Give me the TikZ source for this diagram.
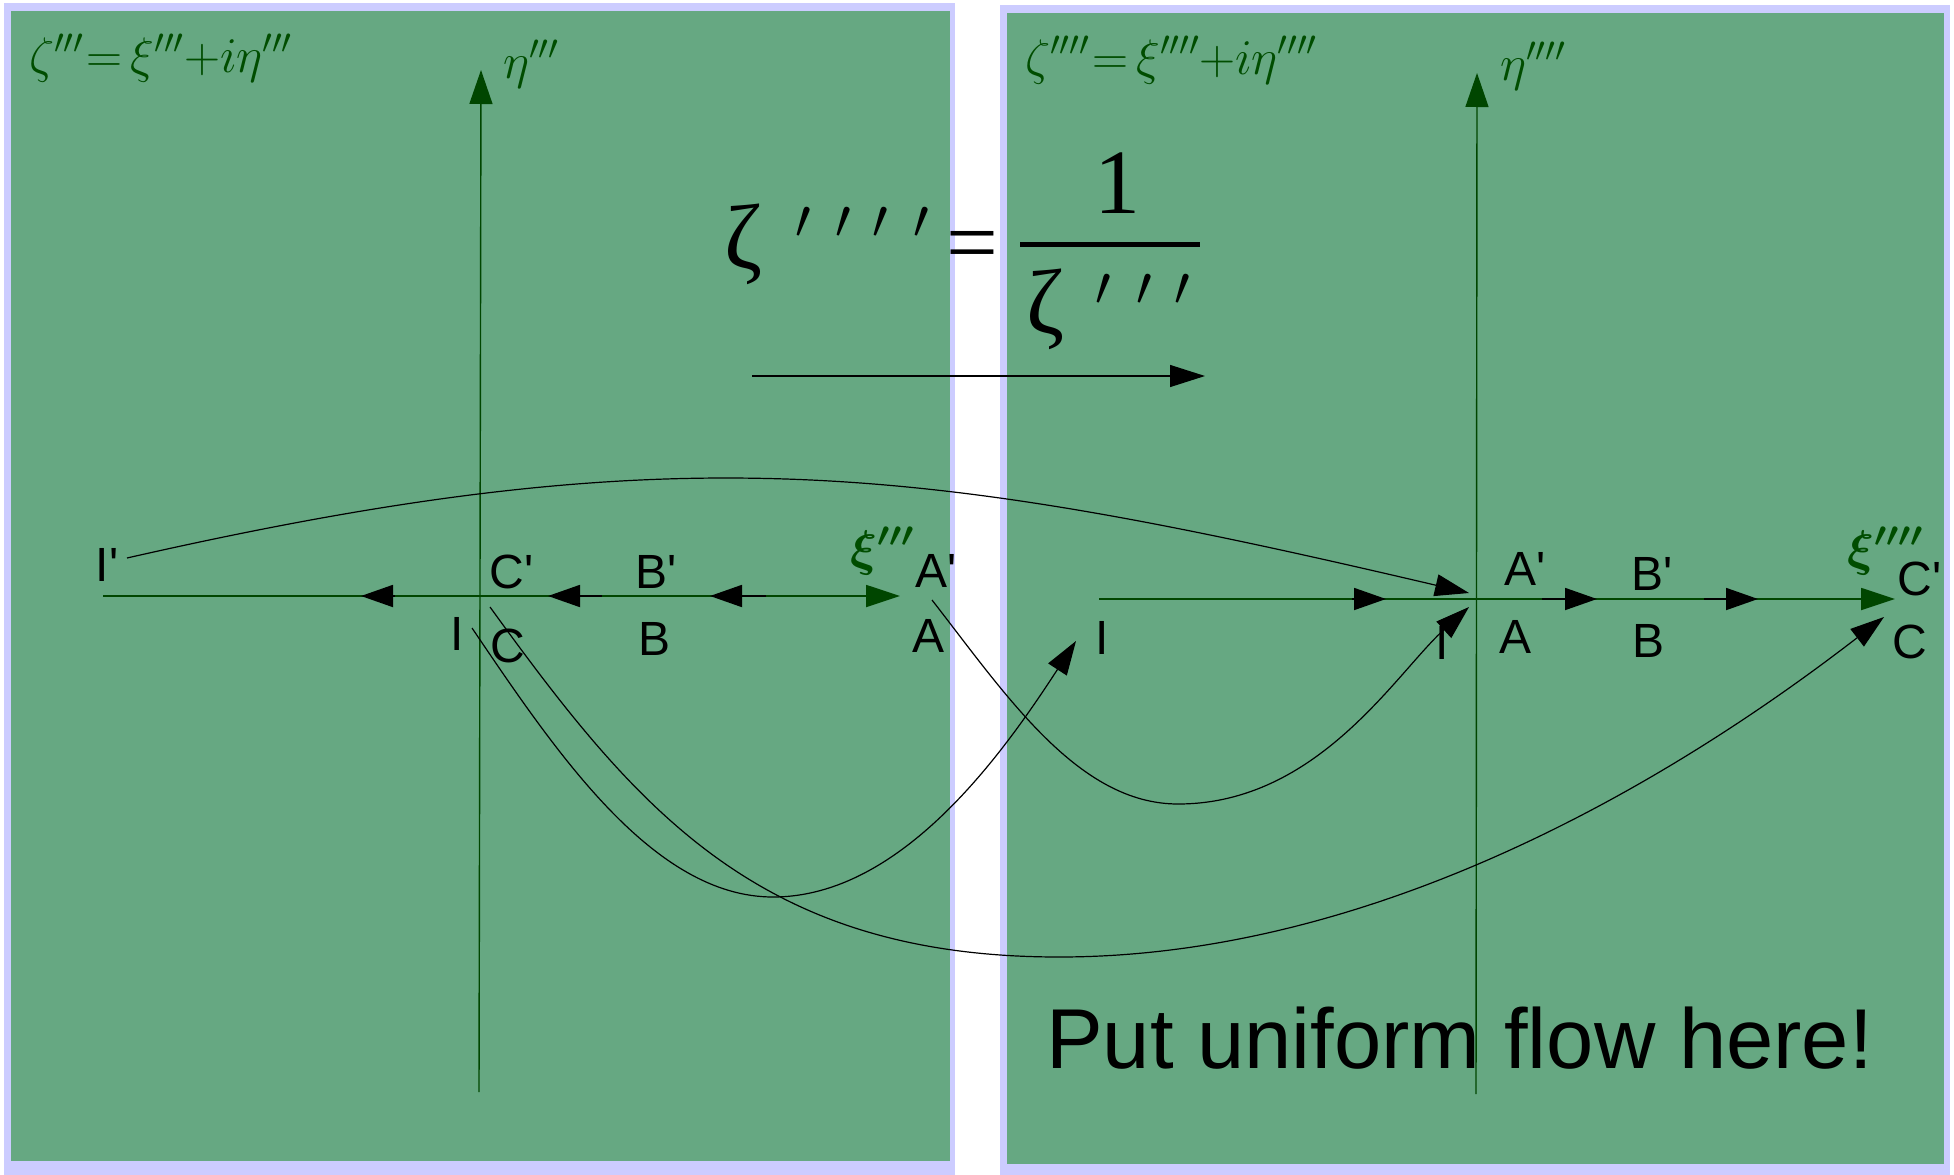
\documentclass[tikz,border=0pt]{standalone}
\usepackage{fix-cm}
\usepackage{amsmath}
\usepackage{fontspec}
\newfontfamily\labfont{Liberation Sans}
\newfontfamily\serfont{Liberation Serif}
\usetikzlibrary{arrows.meta}
\definecolor{lav}{RGB}{204,204,255}
\definecolor{panelgreen}{RGB}{102,168,130}
\definecolor{axisgreen}{RGB}{0,70,0}
\definecolor{textgreen}{RGB}{0,77,0}
\begin{document}
\begin{tikzpicture}[x=1pt,y=-1pt,
  lbl/.style={font=\labfont\fontsize{48}{56}\selectfont, inner sep=0pt, anchor=base west, text=black},
  gmath/.style={font=\fontsize{50}{60}\selectfont, inner sep=0pt, anchor=base west, text=textgreen},
  bigser/.style={font=\serfont\fontsize{92}{100}\selectfont, inner sep=0pt, anchor=base west, text=black},
  primes/.style={font=\fontsize{56}{60}\selectfont, inner sep=0pt, anchor=base west, text=black},
  axisline/.style={draw=axisgreen, line width=1.8pt, -{Triangle[length=34pt,width=22pt]}},
  vaxis/.style={draw=axisgreen, line width=1.4pt, -{Triangle[length=34pt,width=23pt]}},
  btip/.style={draw=black, line width=1.8pt, -{Triangle[length=32pt,width=22pt]}},
  curve/.style={draw=black, line width=1.2pt, -{Triangle[length=34pt,width=22pt]}}]
\useasboundingbox (0,0) rectangle (1954,1175);
% panels
\fill[lav] (4,3) rectangle (955,1175);
\fill[panelgreen] (11,11) rectangle (950,1161);
\fill[lav] (1000,5) rectangle (1950,1175);
\fill[panelgreen] (1007,13) rectangle (1944,1164);
% axes coordinates
\coordinate (LxS) at (103,596);
\coordinate (LxE) at (900,596);
\coordinate (LyS) at (479,1092);
\coordinate (LyE) at (481,70);
\coordinate (RxS) at (1099,599);
\coordinate (RxE) at (1895,599);
\coordinate (RyS) at (1476,1094);
\coordinate (RyE) at (1477,73);
\draw[axisline] (LxS) -- (LxE);
\draw[vaxis] (LyS) -- (LyE);
\draw[axisline] (RxS) -- (RxE);
\draw[vaxis] (RyS) -- (RyE);
% flow arrowheads on the axes
\draw[btip] (395,596) -- (361,596);
\draw[btip] (602,596) -- (548,596);
\draw[btip] (766,596) -- (710,596);
\draw[btip] (1352,599) -- (1386,599);
\draw[btip] (1542,599) -- (1597,599);
\draw[btip] (1704,599) -- (1758,599);
% formulas
\node[gmath] (fl) at (29,72) {$\zeta'''\mkern1mu{=}\mkern3mu\xi'''{+}i\eta'''$};
\node[gmath] (fr) at (1025,74) {$\zeta''''\mkern1mu{=}\mkern3mu\xi''''{+}i\eta''''$};
\node[gmath] (etal) at (503,78) {$\eta'''$};
\node[gmath] (etar) at (1500,80) {$\eta''''$};
\node[gmath] (xil) at (850,565) {$\boldsymbol{\xi'''}$};
\node[gmath] (xir) at (1847,565) {$\boldsymbol{\xi''''}$};
% labels left
\node[lbl] (Ipl) at (95.5,581) {I'};
\node[lbl] (Cpl) at (489.5,588) {C'};
\node[lbl] (Bpl) at (635.5,588) {B'};
\node[lbl] (Apl) at (915,587) {A'};
\node[lbl] (Il) at (450.5,650) {I};
\node[lbl] (Cl) at (490.5,662) {C};
\node[lbl] (Bl) at (638.5,655) {B};
\node[lbl] (Al) at (912,652) {A};
% labels right
\node[lbl] (Apr) at (1504,585) {A'};
\node[lbl] (Bpr) at (1631.5,590) {B'};
\node[lbl] (Cpr) at (1897.5,595) {C'};
\node[lbl] (Ir) at (1095.5,654) {I};
\node[lbl] (Ipr) at (1435.5,659) {I};
\node[lbl] (Ar) at (1499,653) {A};
\node[lbl] (Br) at (1632.5,657) {B};
\node[lbl] (Cr) at (1892.5,658) {C};
% big formula
\node[bigser] (zbig) at (724,268) {ζ};
\node[primes] (pbig) at (795,238) {$\prime$\hspace{25pt}$\prime$\hspace{22pt}$\prime$\hspace{25pt}$\prime$};
\node[bigser] (eqbig) at (946,273) {=};
\node[bigser] (onebig) at (1094,213) {1};
\node[bigser] (zden) at (1026,333) {ζ};
\node[primes] (pden) at (1095,305) {$\prime$\hspace{26pt}$\prime$\hspace{22pt}$\prime$};
\coordinate (barL) at (1020,244.5);
\coordinate (barR) at (1200,244.5);
\draw[line width=5pt] (barL) -- (barR);
\coordinate (mapS) at (752,376);
\coordinate (mapE) at (1205,376);
\draw[line width=1.2pt, -{Triangle[length=35pt,width=22pt]}] (mapS) -- (mapE);
% mapping curves
\coordinate (c1s) at (127,558);
\coordinate (c1e) at (1469,593);
\draw[curve] (c1s) .. controls (677,433) and (919,464) .. (c1e);
\coordinate (c2s) at (932,600);
\coordinate (c2m) at (1178,804);
\coordinate (c2e) at (1469,607);
\draw[curve] (c2s) .. controls (1006,695) and (1078,804) .. (c2m) .. controls (1318,804) and (1396,673) .. (c2e);
\coordinate (c3s) at (472,628);
\coordinate (c3m) at (773,897);
\coordinate (c3e) at (1076,641);
\draw[curve] (c3s) .. controls (556,752) and (653,897) .. (c3m) .. controls (903,897) and (1005,750) .. (c3e);
\coordinate (c4s) at (490,607);
\coordinate (c4m) at (1059,957);
\coordinate (c4e) at (1884,617);
\draw[curve] (c4s) .. controls (637,810) and (759,957) .. (c4m) .. controls (1359,957) and (1647,800) .. (c4e);
% note
\node[font=\labfont\fontsize{85}{95}\selectfont, inner sep=0pt, anchor=base west] (note) at (1046,1068) {Put uniform flow here!};
\end{tikzpicture}
\end{document}
